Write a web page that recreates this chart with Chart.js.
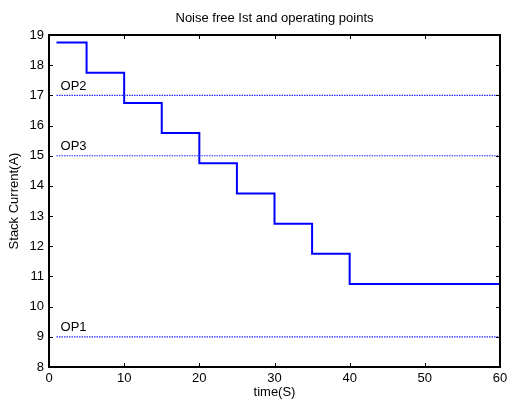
<!DOCTYPE html>
<html>
<head>
<meta charset="utf-8">
<script src="https://cdn.jsdelivr.net/npm/chart.js@4"></script>
<style>
  html, body { margin: 0; padding: 0; background: #fff; }
  canvas { display: block; }
</style>
</head>
<body>
<canvas id="stackChart" width="508" height="400"></canvas>
<script>
// step changes of the stack current
const stepTimes = [1, 5, 10, 15, 20, 25, 30, 35, 40, 60];
const stepLevels = [18.75, 17.75, 16.75, 15.75, 14.75, 13.75, 12.75, 11.75, 10.75, 10.75];

// operating points (horizontal reference lines)
const opNames = ["OP1", "OP2", "OP3"];
const opLevels = [9, 17, 15];
const opStart = 1;
const opEnd = 60;

const xTicks = [0, 10, 20, 30, 40, 50, 60];
const yTicks = [8, 9, 10, 11, 12, 13, 14, 15, 16, 17, 18, 19];

const FONT = "'Liberation Sans', Arial, sans-serif";
const FSIZE = 13;

const datasets = [];
opLevels.forEach(function (lvl, i) {
  datasets.push({
    label: opNames[i],
    data: [{ x: opStart, y: lvl }, { x: opEnd, y: lvl }],
    borderColor: "rgba(40,40,255,1)",
    borderWidth: 1.2,
    borderDash: [1.5, 1],
    pointRadius: 0,
    fill: false
  });
});
datasets.push({
  label: "Ist",
  data: stepTimes.map(function (t, i) { return { x: t, y: stepLevels[i] }; }),
  stepped: "before",
  borderColor: "#0000ff",
  borderWidth: 2,
  pointRadius: 0,
  fill: false
});

// box, inward ticks, title and OP labels
const matlabFrame = {
  id: "matlabFrame",
  afterDraw: function (chart) {
    const c = chart.ctx;
    const a = chart.chartArea;
    const xs = chart.scales.x;
    const ys = chart.scales.y;
    c.save();

    // OP labels
    c.fillStyle = "#000";
    c.font = FSIZE + "px " + FONT;
    c.textAlign = "left";
    c.textBaseline = "middle";
    opLevels.forEach(function (lvl, i) {
      c.fillText(opNames[i], xs.getPixelForValue(opStart) + 4, ys.getPixelForValue(lvl) - 9);
    });

    // frame
    c.strokeStyle = "#000";
    c.lineWidth = 2;
    c.strokeRect(a.left, a.top, a.right - a.left, a.bottom - a.top);

    // inward tick marks on all four sides
    c.lineWidth = 1;
    c.beginPath();
    const tl = 4;
    xTicks.forEach(function (v) {
      const px = Math.round(xs.getPixelForValue(v)) + 0.5;
      c.moveTo(px, a.bottom); c.lineTo(px, a.bottom - tl);
      c.moveTo(px, a.top); c.lineTo(px, a.top + tl);
    });
    yTicks.forEach(function (v) {
      const py = Math.round(ys.getPixelForValue(v)) + 0.5;
      c.moveTo(a.left, py); c.lineTo(a.left + tl, py);
      c.moveTo(a.right, py); c.lineTo(a.right - tl, py);
    });
    c.stroke();

    // title over the plot area
    c.textAlign = "center";
    c.textBaseline = "middle";
    c.fillText("Noise free Ist and operating points", (a.left + a.right) / 2, 18);
    c.restore();
  }
};

const ctx = document.getElementById("stackChart").getContext("2d");
new Chart(ctx, {
  type: "line",
  data: { datasets: datasets },
  options: {
    responsive: false,
    animation: false,
    layout: { padding: { top: 35, right: 0, left: 0, bottom: 0 } },
    plugins: {
      legend: { display: false },
      tooltip: { enabled: false }
    },
    scales: {
      x: {
        type: "linear",
        min: 0,
        max: 60,
        afterBuildTicks: function (s) { s.ticks = xTicks.map(function (v) { return { value: v }; }); },
        afterFit: function (s) {
          s.height = 33;
          s.paddingRight = 8;
        },
        grid: { display: false, drawTicks: false },
        border: { display: false },
        ticks: { color: "#000", font: { family: FONT, size: FSIZE }, padding: 4, maxRotation: 0 },
        title: {
          display: true,
          text: "time(S)",
          color: "#000",
          font: { family: FONT, size: FSIZE },
          padding: { top: 0, bottom: 0 }
        }
      },
      y: {
        type: "linear",
        min: 8,
        max: 19,
        afterBuildTicks: function (s) { s.ticks = yTicks.map(function (v) { return { value: v }; }); },
        afterFit: function (s) { s.width = 49; },
        grid: { display: false, drawTicks: false },
        border: { display: false },
        ticks: { color: "#000", font: { family: FONT, size: FSIZE }, padding: 5 },
        title: {
          display: true,
          text: "Stack Current(A)",
          color: "#000",
          font: { family: FONT, size: FSIZE },
          padding: { top: 7, bottom: 0 }
        }
      }
    }
  },
  plugins: [matlabFrame]
});
</script>
</body>
</html>
